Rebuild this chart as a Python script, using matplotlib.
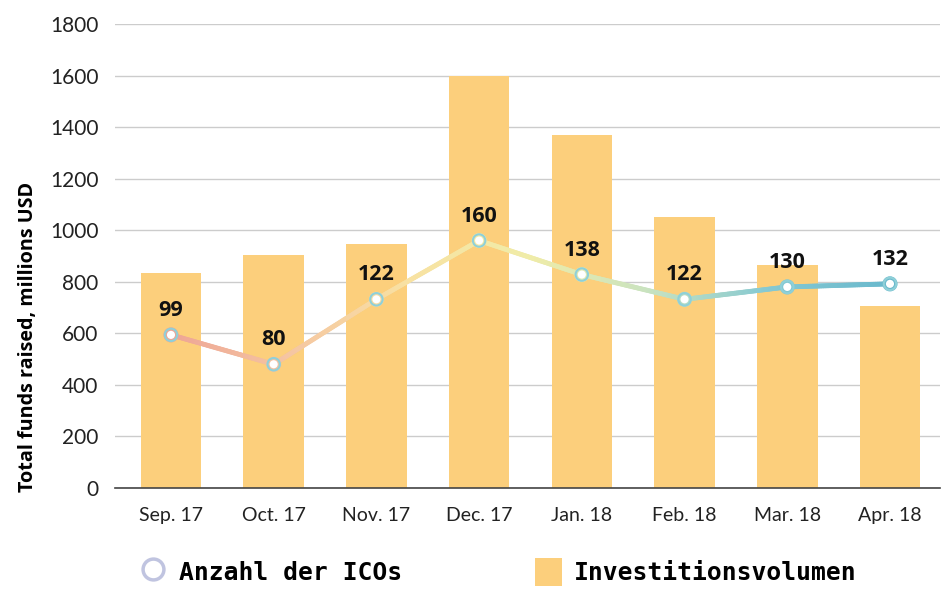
import matplotlib
matplotlib.use("Agg")
import matplotlib.pyplot as plt
import numpy as np
from matplotlib.collections import LineCollection
from matplotlib.colors import LinearSegmentedColormap
from matplotlib.lines import Line2D
from matplotlib.patches import Patch

months = ["Sep. 17", "Oct. 17", "Nov. 17", "Dec. 17", "Jan. 18", "Feb. 18", "Mar. 18", "Apr. 18"]
funds = [835, 905, 947, 1598, 1370, 1052, 865, 706]
ico_counts = [99, 80, 122, 160, 138, 122, 130, 132]

bar_color = "#fccf7c"
grad = LinearSegmentedColormap.from_list(
    "g", ["#eea595", "#f5c6a2", "#f8e2a2", "#f0eca8", "#c9e3c0", "#86c9d2", "#6ab9cd"])

fig = plt.figure(figsize=(9.49, 5.97), dpi=100)
ax = fig.add_axes([115/949, (597-488)/597, (940-115)/949, (488-24)/597])
x = np.arange(len(months))
ax.bar(x, funds, width=0.59, color=bar_color, zorder=2)
ax.set_ylim(0, 1800)
ax.set_yticks(range(0, 1801, 200))
ax.set_xlim(-0.545, 7.487)
ax.set_xticks(x)
ax.set_xticklabels(months, fontsize=14, family="Lato", color="#222222")
ax.tick_params(axis="y", labelsize=15, colors="#222222", length=0, pad=12)
ax.tick_params(axis="x", length=0, pad=14)
for t in ax.get_yticklabels():
    t.set_family("Lato")
ax.grid(axis="y", color="#cccccc", linewidth=1, zorder=0)
ax.set_axisbelow(True)
for s in ["top", "right", "left"]:
    ax.spines[s].set_visible(False)
ax.spines["bottom"].set_color("#444444")
ax.spines["bottom"].set_linewidth(1.2)
ax.spines["bottom"].set_zorder(5)
ax.set_ylabel("Total funds raised, millions USD", fontsize=14.2, fontweight="bold",
              family="Open Sans")
ax.yaxis.set_label_coords(-0.093, 0.326)

ax2 = ax.twinx()
ax2.set_ylim(0, 300)
ax2.axis("off")
xs = np.array(x, dtype=float)
ys = np.array(ico_counts, dtype=float)
fine_x = np.linspace(xs[0], xs[-1], 400)
fine_y = np.interp(fine_x, xs, ys)
pts = np.array([fine_x, fine_y]).T.reshape(-1, 1, 2)
segs = np.concatenate([pts[:-1], pts[1:]], axis=1)
lc = LineCollection(segs, cmap=grad, linewidth=3.5, zorder=3, capstyle="round")
lc.set_array(np.linspace(0, 1, len(segs)))
ax2.add_collection(lc)
ax2.scatter(xs, ys, s=70, facecolor="white", edgecolor=[grad(v) for v in np.linspace(0, 1, len(xs))],
            linewidths=2.5, zorder=4)
ax2.scatter(xs, ys, s=80, facecolor="none", edgecolor="#8fd0d8", linewidths=1.5, zorder=4)
for xi, yi in zip(xs, ys):
    ax2.text(xi, yi + 9, str(int(yi)), ha="center", va="bottom", fontsize=15.5,
             fontweight="bold", family="Open Sans", color="#111111")

handles = [Line2D([], [], marker="o", linestyle="none", markersize=15, markerfacecolor="white",
                  markeredgecolor="#c0c4e0", markeredgewidth=2.5),
           Patch(facecolor=bar_color)]
fig.legend(handles, ["Anzahl der ICOs", "Investitionsvolumen"], loc="center",
           bbox_to_anchor=(498/949, 1 - 572/597), ncol=2, frameon=False,
           prop={"family": "DejaVu Sans Mono", "size": 17.7, "weight": "bold"}, columnspacing=5.4,
           handlelength=1.1, handleheight=1.4, handletextpad=0.5)

fig.savefig("out.png", dpi=100)
